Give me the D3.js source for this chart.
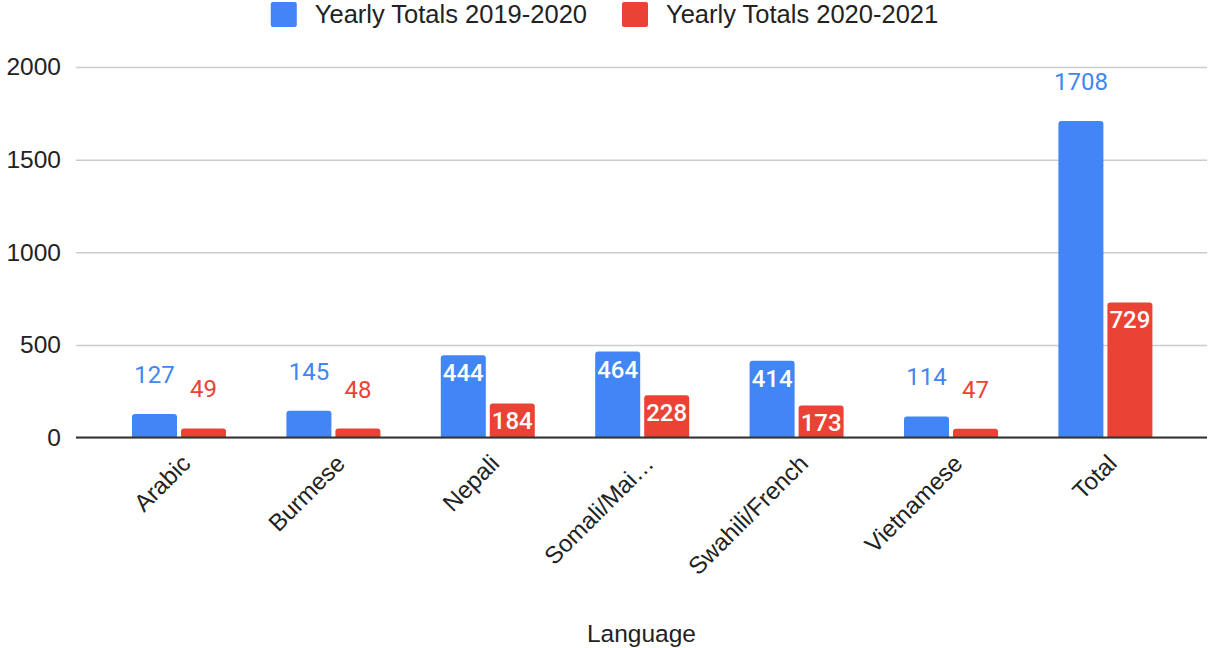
<!DOCTYPE html>
<html>
<head>
<meta charset="utf-8">
<script src="https://cdn.jsdelivr.net/npm/d3@7"></script>
<style>
  html, body { margin: 0; padding: 0; background: #ffffff; }
  svg { display: block; }
</style>
</head>
<body>
<svg id="chart" width="1209" height="648"></svg>
<script>
// Yearly totals by language
const categories = ["Arabic", "Burmese", "Nepali", "Somali/Mai…", "Swahili/French", "Vietnamese", "Total"];
const seriesNames = ["Yearly Totals 2019-2020", "Yearly Totals 2020-2021"];
const totals2019_2020 = [127, 145, 444, 464, 414, 114, 1708];
const totals2020_2021 = [49, 48, 184, 228, 173, 47, 729];
const yTicks = [0, 500, 1000, 1500, 2000];
const xTitle = "Language";

const colors = ["#4285f4", "#ea4335"];
const seriesValues = [totals2019_2020, totals2020_2021];

const svg = d3.select("#chart");
const W = 1209;

const gridLeft = 76, gridRight = 1207;
const y = d3.scaleLinear().domain([0, 2000]).range([437.5, 67]);
const x0 = d3.scaleBand().domain(categories).range([101.8, 1182.6]).padding(0);
const groupWidth = 94;
const x1 = d3.scaleBand().domain(d3.range(seriesNames.length)).range([0, groupWidth]).paddingInner(4 / 49);

const axisFont = "'Liberation Sans', Arial, Helvetica, sans-serif";
const labelFont = "Roboto, 'Liberation Sans', Arial, sans-serif";

// Gridlines and y tick labels
const yAxis = d3.axisLeft(y).tickValues(yTicks).tickFormat(d3.format("d"))
  .tickSize(-(gridRight - gridLeft)).tickPadding(15);
const yG = svg.append("g").attr("transform", `translate(${gridLeft},0)`).call(yAxis);
yG.select(".domain").remove();
yG.selectAll(".tick line").attr("stroke", "#cccccc").attr("stroke-width", 1.5);
yG.selectAll(".tick text")
  .attr("font-family", axisFont).attr("font-size", 24.5).attr("fill", "#222222");

// Bars with rounded top corners
function topRounded(xp, yTop, w, h, r) {
  r = Math.min(r, h, w / 2);
  const yb = yTop + h;
  return `M${xp},${yb}V${yTop + r}Q${xp},${yTop} ${xp + r},${yTop}H${xp + w - r}Q${xp + w},${yTop} ${xp + w},${yTop + r}V${yb}Z`;
}

const rows = categories.map((c, i) => ({
  cat: c,
  vals: seriesValues.map((s, k) => ({ k, v: s[i] }))
}));

const groups = svg.append("g").selectAll("g").data(rows).join("g")
  .attr("transform", d => `translate(${x0(d.cat) + x0.bandwidth() / 2 - groupWidth / 2},0)`);

groups.selectAll("path").data(d => d.vals).join("path")
  .attr("d", d => topRounded(x1(d.k), y(d.v), x1.bandwidth(), y(0) - y(d.v), 3))
  .attr("fill", d => colors[d.k]);

// Baseline
svg.append("line")
  .attr("x1", gridLeft).attr("x2", gridRight)
  .attr("y1", y(0)).attr("y2", y(0))
  .attr("stroke", "#333333").attr("stroke-width", 2);

// Value labels: inside the top of mid-height bars, above short bars and the tallest bar
const yMaxTop = y(1000);
const inside = d => (y(0) - y(d.v) > 30) && y(d.v) > yMaxTop;

groups.selectAll("text.val").data(d => d.vals).join("text")
  .attr("class", "val")
  .attr("x", d => x1(d.k) + x1.bandwidth() / 2)
  .attr("y", d => inside(d) ? y(d.v) + 26 : y(d.v) - 31)
  .attr("text-anchor", "middle")
  .attr("font-family", labelFont).attr("font-size", 24)
  .attr("font-weight", d => inside(d) ? 500 : 400)
  .attr("fill", d => inside(d) ? "#ffffff" : colors[d.k])
  .attr("stroke", d => inside(d) ? colors[d.k] : "none")
  .attr("stroke-width", 3)
  .attr("paint-order", "stroke")
  .text(d => d.v);

// Category labels, rotated
svg.append("g").selectAll("text").data(categories).join("text")
  .attr("transform", d => `translate(${x0(d) + x0.bandwidth() / 2 + 13},465) rotate(-45)`)
  .attr("text-anchor", "end")
  .attr("font-family", axisFont).attr("font-size", 24).attr("fill", "#222222")
  .text(d => d);

// Axis title
svg.append("text")
  .attr("x", (gridLeft + gridRight) / 2).attr("y", 642)
  .attr("text-anchor", "middle")
  .attr("font-family", axisFont).attr("font-size", 24.5).attr("fill", "#222222")
  .text(xTitle);

// Legend, centred across the top
const legend = svg.append("g");
const swatch = 26, swGap = 18, itemGap = 35;
const items = legend.selectAll("g").data(seriesNames).join("g");
items.append("rect")
  .attr("width", swatch).attr("height", swatch - 1).attr("y", 2).attr("rx", 2)
  .attr("fill", (d, i) => colors[i]);
items.append("text")
  .attr("x", swatch + swGap).attr("y", 23)
  .attr("font-family", axisFont).attr("font-size", 25.5).attr("fill", "#222222")
  .text(d => d);
let cursor = 0;
items.each(function () {
  const g = d3.select(this);
  g.attr("transform", `translate(${cursor},0)`);
  const tw = g.select("text").node().getComputedTextLength();
  cursor += swatch + swGap + tw + itemGap;
});
const legendWidth = cursor - itemGap;
legend.attr("transform", `translate(${(W - legendWidth) / 2},0)`);
</script>
</body>
</html>
